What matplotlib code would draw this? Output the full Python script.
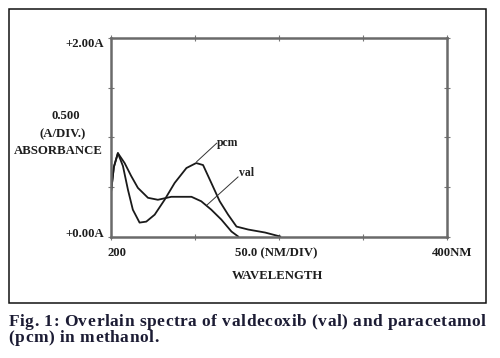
import matplotlib
matplotlib.use("Agg")
import matplotlib.pyplot as plt

# Spectra (wavelength in nm, absorbance in A)
pcm_nm = [200, 202, 204.4, 207.4, 210.4, 213.3, 217.3, 221.3, 226.3, 232.2,
          238.2, 245.2, 251, 255.1, 260, 265, 270, 275, 282, 292, 301]
pcm_abs = [0.40, 0.70, 0.84, 0.71, 0.47, 0.27, 0.14, 0.15, 0.22, 0.37,
           0.54, 0.69, 0.74, 0.72, 0.54, 0.355, 0.22, 0.10, 0.07, 0.04, 0.0]

val_nm = [200, 202, 204.4, 208.4, 212.3, 216.3, 222.3, 228.2, 236.2, 248.2,
          254, 260, 266, 272, 276]
val_abs = [0.40, 0.70, 0.84, 0.74, 0.61, 0.49, 0.39, 0.37, 0.40, 0.40,
           0.355, 0.27, 0.17, 0.05, 0.0]

x_ticks = [200, 250, 300, 350, 400]
y_ticks = [0.0, 0.5, 1.0, 1.5, 2.0]

caption_1 = "Fig. 1: Overlain spectra of valdecoxib (val) and paracetamol"
caption_2 = "(pcm) in methanol."

W, H = 500, 358
fig = plt.figure(figsize=(W / 100, H / 100), dpi=100)
serif = "Liberation Serif"


def fx(px):
    return px / W


def fy(py):
    return 1 - py / H


# outer frame around the chart
fig.add_artist(plt.Rectangle((fx(8.5), fy(302.5)), fx(477), 294 / H,
                             fill=False, lw=1.1, ec="#111111",
                             transform=fig.transFigure))

ax = fig.add_axes([fx(110.5), fy(236.5), fx(336), (236.5 - 38) / H])
ax.plot(pcm_nm, pcm_abs, color="#1a1a1a", lw=1.3)
ax.plot(val_nm, val_abs, color="#1a1a1a", lw=1.3)
ax.set_xlim(200, 400)
ax.set_ylim(0, 2.0)
ax.set_xticks(x_ticks)
ax.set_yticks(y_ticks)
ax.tick_params(direction="inout", length=4, width=0.8, color="#777777",
               labelbottom=False, labelleft=False,
               top=True, right=True)
for sp in ax.spines.values():
    sp.set_color("#6a6a6a")
    sp.set_linewidth(1.8)

# leader lines and labels
ax.plot([251.3, 263.2], [0.754, 0.94], color="#333333", lw=0.7)
ax.text(263.5, 0.945, "pcm", fontsize=8.5, family=serif, weight="bold",
        ha="left", va="center", color="#222222")
ax.plot([257.4, 275.9], [0.317, 0.60], color="#333333", lw=0.7)
ax.text(276.2, 0.635, "val", fontsize=8.5, family=serif, weight="bold",
        ha="left", va="center", color="#222222")

lab = dict(family=serif, weight="bold", fontsize=9.2, color="#1e1e1e")
fig.text(fx(104), fy(44), "+2.00A", ha="right", va="center", **lab)
fig.text(fx(104), fy(234), "+0.00A", ha="right", va="center", **lab)
fig.text(fx(66), fy(116), "0.500", ha="center", va="center", **lab)
fig.text(fx(63), fy(134), "(A/DIV.)", ha="center", va="center", **lab)
fig.text(fx(58), fy(151), "ABSORBANCE", ha="center", va="center", **lab)
fig.text(fx(117), fy(253), "200", ha="center", va="center", **lab)
fig.text(fx(276), fy(253), "50.0 (NM/DIV)", ha="center", va="center", **lab)
fig.text(fx(452), fy(253), "400NM", ha="center", va="center", **lab)
fig.text(fx(277), fy(276), "WAVELENGTH", ha="center", va="center", **lab)

# caption: letter-spaced, first line stretched between the frame edges
cap = dict(family=serif, weight="bold", fontsize=12.5, color="#1c1c34")
renderer = fig.canvas.get_renderer()


def char_width(c):
    if c == " ":
        a = fig.text(0, 0, "a a", **cap)
        b = fig.text(0, 0, "aa", **cap)
        w = a.get_window_extent(renderer).width - b.get_window_extent(renderer).width
        a.remove()
        b.remove()
        return w
    t = fig.text(0, 0, c, **cap)
    w = t.get_window_extent(renderer).width
    t.remove()
    return w


left, right = 8.5, 485.5
w1 = [char_width(c) for c in caption_1]
track = (right - left - sum(w1)) / (len(caption_1) - 1)


def draw_line(text, widths, baseline):
    x = left
    for c, w in zip(text, widths):
        if c != " ":
            fig.text(fx(x), fy(baseline), c, ha="left", va="baseline", **cap)
        x += w + track


draw_line(caption_1, w1, 326)
draw_line(caption_2, [char_width(c) for c in caption_2], 342)

fig.savefig("out.png", dpi=100)
